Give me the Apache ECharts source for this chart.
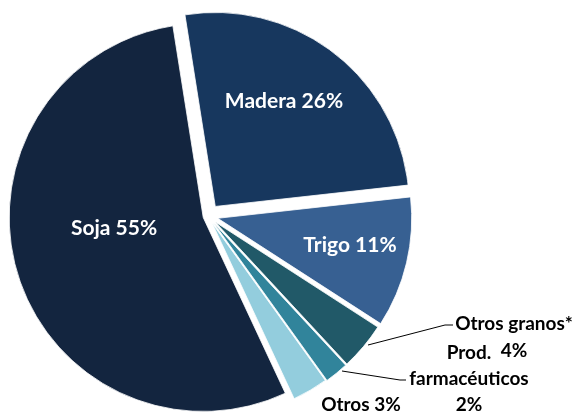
<!DOCTYPE html>
<html>
<head>
<meta charset="utf-8">
<script src="https://cdn.jsdelivr.net/npm/echarts@6/dist/echarts.min.js"></script>
<style>
  html, body { margin: 0; padding: 0; background: #fff; }
  #chart { width: 576px; height: 414px; }
</style>
</head>
<body>
<div id="chart"></div>
<script>
// datos del gráfico (orden horario desde arriba)
const categorias = ['Madera', 'Trigo', 'Otros granos*', 'Prod. farmacéuticos', 'Otros', 'Soja']
const etiquetas = ['Madera 26%', 'Trigo 11%', 'Otros granos*\n4%', 'Prod.\nfarmacéuticos\n2%', 'Otros 3%', 'Soja 55%']
const valores = [26, 11, 4, 2, 3, 55]

const colores = ['#17375e', '#376092', '#215968', '#31849b', '#93cddd', '#13253f']
// separación de cada porción (px)
const desplazamientos = [12, 10, 9, 9, 8, 5]
const dentro = [true, true, false, false, false, true]

// posición de cada etiqueta (centro del texto)
const posEtiquetas = [[284, 101], [350, 245], [514, 337], [469, 379], [361, 405], [114, 228]]
const lineasGuia = {
    2: [[368, 345], [445, 325], [453, 325]],
    3: [[342, 371], [400, 380], [406, 380]],
}

const centro = [208, 216]
const inicio = 99
const total = valores.reduce((a, b) => a + b, 0)

const chart = echarts.init(document.getElementById('chart'))

// una serie por porción, desplazada según su ángulo medio
let acumulado = 0
const series = valores.map((v, i) => {
    const medio = (inicio - (acumulado + v / 2) / total * 360) * Math.PI / 180
    acumulado += v
    const cx = centro[0] + desplazamientos[i] * Math.cos(medio)
    const cy = centro[1] - desplazamientos[i] * Math.sin(medio)
    return {
        type: 'pie',
        center: [cx, cy],
        radius: 194,
        startAngle: inicio,
        clockwise: true,
        avoidLabelOverlap: false,
        emphasis: { disabled: true },
        labelLine: {
            lineStyle: { color: '#000', width: 1 },
        },
        labelLayout: function (params) {
            if (params.dataIndex !== i) return {}
            const p = posEtiquetas[i]
            const res = { x: p[0], y: p[1], align: 'center', verticalAlign: 'middle' }
            if (lineasGuia[i]) res.labelLinePoints = lineasGuia[i]
            return res
        },
        data: valores.map((w, j) => {
            if (j !== i) {
                return {
                    name: categorias[j],
                    value: w,
                    itemStyle: { color: 'rgba(0,0,0,0)', borderWidth: 0 },
                    label: { show: false },
                    labelLine: { show: false },
                }
            }
            return {
                name: categorias[j],
                value: w,
                itemStyle: { color: colores[j], borderColor: '#fff', borderWidth: 0.8 },
                label: {
                    show: true,
                    formatter: etiquetas[j],
                    position: dentro[j] ? 'inside' : 'outside',
                    color: dentro[j] ? '#fff' : '#000',
                    fontFamily: 'Lato',
                    fontWeight: 'bold',
                    fontSize: dentro[j] ? 21 : 19,
                    lineHeight: j === 2 ? 27 : 26,
                    align: 'center',
                },
                labelLine: { show: !!lineasGuia[j] },
            }
        }),
    }
})

chart.setOption({
    animation: false,
    series: series,
})
</script>
</body>
</html>
